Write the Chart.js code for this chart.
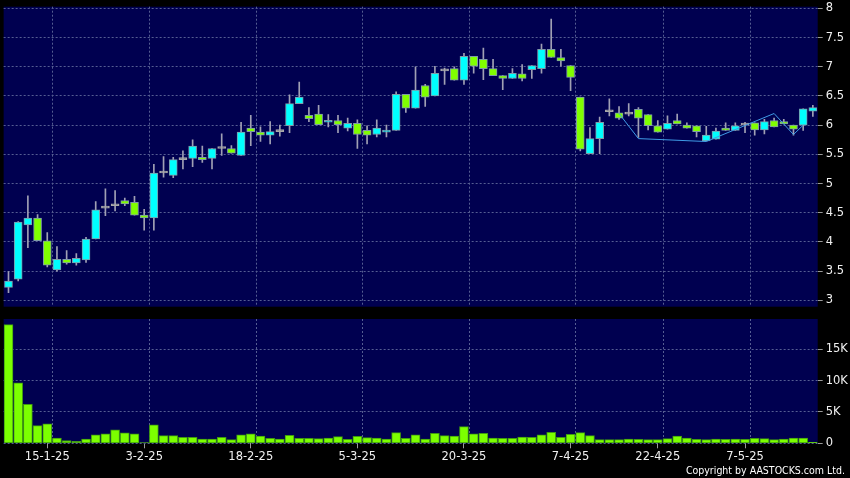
<!DOCTYPE html>
<html>
<head>
<meta charset="utf-8">
<script src="https://cdn.jsdelivr.net/npm/chart.js@4.4.0/dist/chart.umd.min.js"></script>
<style>
  html, body { margin:0; padding:0; background:#000; }
  #wrap { position:relative; width:850px; height:478px; overflow:hidden; }
  #priceBox { position:absolute; left:0; top:0; width:850px; height:314px; }
  #volBox { position:absolute; left:0; top:314px; width:850px; height:164px; }
  #copy { position:absolute; right:5px; top:464px; font-size:10.5px; font-family:"DejaVu Sans Condensed","DejaVu Sans",sans-serif; color:#fff; }
</style>
</head>
<body>
<div id="wrap">
  <div id="priceBox"><canvas id="price"></canvas></div>
  <div id="volBox"><canvas id="vol"></canvas></div>
  <div id="copy">Copyright by AASTOCKS.com Ltd.</div>
</div>
<script>
// trading days, 9-1-25 .. 16-5-25
var dates = [
  '9-1-25','10-1-25','13-1-25','14-1-25','15-1-25','16-1-25','17-1-25','20-1-25','21-1-25','22-1-25',
  '23-1-25','24-1-25','27-1-25','28-1-25',
  '3-2-25','4-2-25','5-2-25','6-2-25','7-2-25','10-2-25','11-2-25','12-2-25','13-2-25','14-2-25',
  '17-2-25','18-2-25','19-2-25','20-2-25','21-2-25','24-2-25','25-2-25','26-2-25','27-2-25','28-2-25',
  '3-3-25','4-3-25','5-3-25','6-3-25','7-3-25','10-3-25','11-3-25','12-3-25','13-3-25','14-3-25',
  '17-3-25','18-3-25','19-3-25','20-3-25','21-3-25','24-3-25','25-3-25','26-3-25','27-3-25','28-3-25','31-3-25',
  '1-4-25','2-4-25','3-4-25','7-4-25','8-4-25','9-4-25','10-4-25','11-4-25','14-4-25','15-4-25',
  '16-4-25','17-4-25','22-4-25','23-4-25','24-4-25','25-4-25','28-4-25','29-4-25','30-4-25',
  '2-5-25','6-5-25','7-5-25','8-5-25','9-5-25','12-5-25','13-5-25','14-5-25','15-5-25','16-5-25'
];
var shownDates = ['15-1-25','3-2-25','18-2-25','5-3-25','20-3-25','7-4-25','22-4-25','7-5-25'];

var opens = [
  3.22,3.36,4.29,4.41,4.02,3.52,3.70,3.64,3.69,4.05,
  4.58,4.62,4.71,4.68,4.46,4.41,5.18,5.14,5.41,5.43,
  5.45,5.43,5.60,5.60,5.48,5.95,5.88,5.83,5.89,5.99,
  6.37,6.17,6.19,6.05,6.08,5.95,6.03,5.91,5.84,5.88,
  5.91,6.53,6.29,6.68,6.50,6.93,6.97,6.77,7.18,7.13,
  6.97,6.85,6.80,6.88,6.95,6.97,7.30,7.16,7.02,6.48,
  5.51,5.77,6.23,6.21,6.19,6.27,6.18,5.99,5.93,6.08,
  6.00,5.99,5.73,5.76,5.95,5.91,6.00,6.04,5.92,6.08,
  6.06,6.00,6.00,6.24
];
var highs = [
  3.49,4.35,4.79,4.47,4.16,3.92,3.85,3.80,4.08,4.69,
  4.91,4.88,4.75,4.78,4.56,5.33,5.46,5.45,5.56,5.75,
  5.64,5.60,5.85,5.65,6.05,6.17,5.97,6.06,6.00,6.52,
  6.74,6.30,6.34,6.18,6.17,6.12,6.09,5.99,6.09,6.00,
  6.57,6.53,7.00,6.70,7.01,6.98,7.00,7.23,7.18,7.32,
  7.13,6.85,6.97,7.04,7.02,7.39,7.82,7.30,7.02,6.48,
  5.96,6.14,6.45,6.32,6.37,6.30,6.18,6.08,6.16,6.19,
  6.04,5.99,5.98,5.95,6.04,6.04,6.05,6.04,6.10,6.12,
  6.10,6.00,6.28,6.34
];
var lows = [
  3.13,3.33,3.90,4.02,3.57,3.50,3.62,3.60,3.65,4.05,
  4.45,4.53,4.62,4.46,4.20,4.20,5.11,5.10,5.25,5.29,
  5.36,5.25,5.48,5.52,5.48,5.65,5.72,5.68,5.81,5.87,
  6.37,6.06,6.01,5.97,5.87,5.90,5.60,5.68,5.80,5.80,
  5.91,6.22,6.29,6.32,6.50,6.70,6.77,6.70,6.89,6.78,
  6.85,6.61,6.80,6.76,6.80,6.89,7.16,7.01,6.59,5.56,
  5.51,5.51,6.16,6.10,6.16,5.79,5.92,5.88,5.93,6.02,
  5.95,5.80,5.73,5.76,5.91,5.91,5.87,5.83,5.85,5.97,
  6.02,5.83,5.91,6.15
];
var closes = [
  3.33,4.34,4.41,4.02,3.60,3.70,3.64,3.72,4.05,4.55,
  4.58,4.62,4.65,4.46,4.41,5.18,5.18,5.41,5.41,5.64,
  5.41,5.60,5.60,5.52,5.88,5.89,5.83,5.89,5.89,6.37,
  6.48,6.11,6.01,6.08,6.01,6.03,5.84,5.83,5.95,5.91,
  6.53,6.29,6.60,6.48,6.89,6.93,6.77,7.18,7.01,6.97,
  6.85,6.80,6.89,6.80,7.02,7.30,7.16,7.10,6.82,5.59,
  5.77,6.05,6.23,6.12,6.19,6.12,5.99,5.88,6.03,6.02,
  5.95,5.89,5.83,5.90,5.91,5.99,6.00,5.92,6.06,5.97,
  6.02,5.93,6.28,6.30
];
var volumes = [
  18900,9630,6220,2820,3090,850,430,320,690,1330,
  1490,2130,1650,1490,100,2930,1220,1220,960,960,
  690,690,960,590,1330,1490,1170,800,690,1280,
  800,800,740,850,1060,640,1120,900,850,690,
  1700,800,1330,690,1600,1220,1170,2660,1490,1600,
  850,800,800,1010,960,1330,1760,960,1440,1700,
  1220,590,590,590,690,640,590,590,740,1170,
  850,640,590,690,640,690,640,800,740,590,
  690,850,850,160
];
// thin blue line in the last part of the price panel
var lineIdx = [63, 65, 72, 79, 81, 82];
var lineVal = [6.20, 5.77, 5.72, 6.20, 5.84, 6.00];

var priceMin = 2.89, priceMax = 8.03;
var priceTicks = [3, 3.5, 4, 4.5, 5, 5.5, 6, 6.5, 7, 7.5, 8];
var volMax = 19800;
var volTicks = [0, 5000, 10000, 15000];

var NAVY = '#000050';
var GRID = '#555d92';
var UP = '#00ffff', DOWN = '#80ff00', FLAT = '#a8a8a8';
var FONT = {family: 'DejaVu Sans', size: 11.5};

var bodies = [], wicks = [], bodyFill = [], bodyLine = [], lineData = [];
for (var i = 0; i < dates.length; i++) {
  bodies.push([opens[i], closes[i]]);
  wicks.push([lows[i], highs[i]]);
  if (closes[i] > opens[i]) { bodyFill.push(UP); bodyLine.push('#7f9aa8'); }
  else if (closes[i] < opens[i]) { bodyFill.push(DOWN); bodyLine.push('#7f9aa8'); }
  else { bodyFill.push(FLAT); bodyLine.push(FLAT); }
  lineData.push(null);
}
for (var k = 0; k < lineIdx.length; k++) lineData[lineIdx[k]] = lineVal[k];

var panelBg = {
  id: 'panelBg',
  beforeDraw: function(chart) {
    var a = chart.chartArea, ctx = chart.ctx;
    ctx.save();
    ctx.fillStyle = NAVY;
    ctx.fillRect(a.left, a.top, a.right - a.left, a.bottom - a.top);
    ctx.restore();
  }
};

// vertical dashed lines sit on the right edge of the labelled day
var dateGrid = {
  id: 'dateGrid',
  beforeDatasetsDraw: function(chart) {
    var x = chart.scales.x, a = chart.chartArea, ctx = chart.ctx;
    var half = (x.getPixelForValue(1) - x.getPixelForValue(0)) / 2;
    ctx.save();
    ctx.strokeStyle = GRID;
    ctx.lineWidth = 1;
    ctx.setLineDash([2, 2]);
    for (var i = 0; i < dates.length; i++) {
      if (shownDates.indexOf(dates[i]) < 0) continue;
      var px = Math.round(x.getPixelForValue(i) + half) + 0.5;
      ctx.beginPath();
      ctx.moveTo(px, a.top);
      ctx.lineTo(px, a.bottom);
      ctx.stroke();
    }
    ctx.restore();
  }
};

// keep the plot boxes where the reference has them
function noPad(s) { s.paddingTop = 0; s.paddingBottom = 0; s.paddingLeft = 0; s.paddingRight = 0; }
function fixWidth(s) { s.width = 32.3; noPad(s); }
function tickList(list) { return function(s) { s.ticks = list.map(function(v) { return {value: v}; }); }; }

new Chart(document.getElementById('price'), {
  type: 'bar',
  data: {
    labels: dates,
    datasets: [
      { type: 'line', data: lineData, borderColor: '#3f9be6', borderWidth: 1,
        pointRadius: 0, spanGaps: true, order: 0 },
      { label: 'body', data: bodies, backgroundColor: bodyFill, borderColor: bodyLine,
        borderWidth: 1, borderSkipped: false, barThickness: 8, minBarLength: 2,
        grouped: false, order: 1 },
      { label: 'wick', data: wicks, backgroundColor: '#a0a0b4', barThickness: 1,
        grouped: false, order: 2 }
    ]
  },
  options: {
    responsive: true,
    maintainAspectRatio: false,
    animation: false,
    layout: { padding: { left: 3.65, right: 0, top: 6.7, bottom: 7.3 } },
    plugins: { legend: { display: false }, tooltip: { enabled: false } },
    scales: {
      x: { display: false, offset: true, afterFit: noPad },
      y: {
        position: 'right',
        min: priceMin, max: priceMax,
        afterBuildTicks: tickList(priceTicks),
        afterFit: fixWidth,
        border: { display: false, dash: [2, 2] },
        grid: { color: GRID, tickColor: '#9a9a9a', tickLength: 5, tickBorderDash: [] },
        ticks: { color: '#f0f0f0', font: FONT, padding: 3,
                 callback: function(v) { return String(v); } }
      }
    }
  },
  plugins: [panelBg, dateGrid]
});

new Chart(document.getElementById('vol'), {
  type: 'bar',
  data: {
    labels: dates,
    datasets: [
      { data: volumes, backgroundColor: '#7cff00', borderColor: '#3f9a10', borderWidth: 1,
        borderSkipped: false, barThickness: 9 }
    ]
  },
  options: {
    responsive: true,
    maintainAspectRatio: false,
    animation: false,
    layout: { padding: { left: 3.65, right: 0, top: 5, bottom: 0 } },
    plugins: { legend: { display: false }, tooltip: { enabled: false } },
    scales: {
      x: {
        offset: true,
        afterFit: function(s) { s.height = 34.7; noPad(s); },
        border: { display: false },
        grid: { display: true, drawOnChartArea: false, offset: false, tickLength: 5, color: '#9a9a9a' },
        ticks: {
          autoSkip: false, maxRotation: 0, color: '#f0f0f0', font: FONT, padding: 2,
          callback: function(v, i) { return shownDates.indexOf(dates[i]) >= 0 ? dates[i] : null; }
        }
      },
      y: {
        position: 'right',
        min: 0, max: volMax,
        afterBuildTicks: tickList(volTicks),
        afterFit: fixWidth,
        border: { display: false, dash: [2, 2] },
        grid: { color: GRID, tickColor: '#9a9a9a', tickLength: 5, tickBorderDash: [] },
        ticks: { color: '#f0f0f0', font: FONT, padding: 3,
                 callback: function(v) { return v === 0 ? '0' : (v / 1000) + 'K'; } }
      }
    }
  },
  plugins: [panelBg, dateGrid]
});
</script>
</body>
</html>
